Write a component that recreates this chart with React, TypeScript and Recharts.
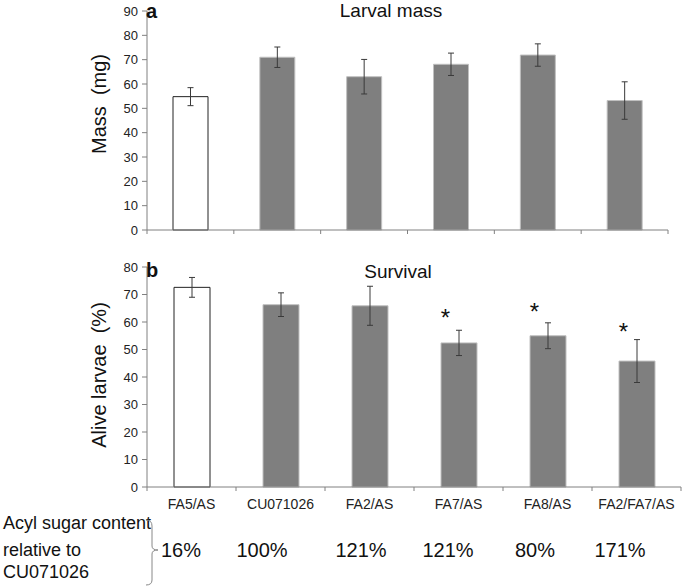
import React from 'react'
import { BarChart, ComposedChart, Bar, Scatter, XAxis, YAxis, ErrorBar, Cell } from 'recharts'

// Larva experiment: mass and survival per line, acyl sugar content relative to CU071026
const categories = ['FA5/AS', 'CU071026', 'FA2/AS', 'FA7/AS', 'FA8/AS', 'FA2/FA7/AS']
const massMean = [54.8, 71.0, 63.0, 68.1, 71.9, 53.2]
const massErr = [3.7, 4.2, 7.1, 4.6, 4.6, 7.7]
const survivalMean = [72.6, 66.3, 65.9, 52.4, 55.0, 45.8]
const survivalErr = [3.6, 4.3, 7.1, 4.6, 4.7, 7.8]
const survivalStar = [null, null, null, 63.2, 65.4, 58.1]
const acylContent = ['16%', '100%', '121%', '121%', '80%', '171%']
const acylX = [181, 262, 361, 448, 535, 620]
const massTicks = [0, 10, 20, 30, 40, 50, 60, 70, 80, 90]
const survivalTicks = [0, 10, 20, 30, 40, 50, 60, 70, 80]

const massData = categories.map((name, i) => ({ name, mean: massMean[i], err: massErr[i] }))
const survivalData = categories.map((name, i) => ({
  name, mean: survivalMean[i], err: survivalErr[i], star: survivalStar[i],
}))

const FONT = '"Liberation Sans", Arial, sans-serif'
const AXIS = '#808080'
const BAR_GRAY = '#7f7f7f'

const estiloTexto = (size: number): React.CSSProperties => ({
  position: 'absolute', fontFamily: FONT, fontSize: size, lineHeight: 1, color: '#111', whiteSpace: 'pre',
})

// tick marks sit between categories, like Excel
function DividerTick(props: any) {
  const { x, y, index, payload, band, count, showLabel } = props
  const half = band / 2
  return (
    <g>
      <line x1={x - half} x2={x - half} y1={y} y2={y + 4} stroke={AXIS} />
      {index === count - 1 && <line x1={x + half} x2={x + half} y1={y} y2={y + 4} stroke={AXIS} />}
      {showLabel && (
        <text x={x} y={y + 22} textAnchor="middle" fontSize={14} fontFamily={FONT} fill="#222">
          {payload.value}
        </text>
      )}
    </g>
  )
}

function Star(props: any) {
  const { cx, cy, payload } = props
  if (payload?.star == null || !Number.isFinite(cy)) return null
  return (
    <text x={cx - 13} y={cy + 13} textAnchor="middle" fontSize={24} fontFamily={FONT} fill="#111">*</text>
  )
}

const cores = categories.map((_, i) => (i === 0 ? '#ffffff' : BAR_GRAY))
const bordas = categories.map((_, i) => (i === 0 ? '#222222' : '#c0c0c0'))

export default function App() {
  const topBand = (668 - 147) / categories.length
  const botBand = (681 - 147) / categories.length
  return (
    <div style={{ position: 'absolute', left: 0, top: 0, width: 685, height: 587, background: '#fff' }}>
      {/* a: larval mass */}
      <div style={{ position: 'absolute', left: 0, top: 0 }}>
        <BarChart width={685} height={250} data={massData} margin={{ top: 11, right: 17, left: 102, bottom: 0 }}>
          <XAxis
            dataKey="name" height={20} tickSize={0} tickMargin={0} interval={0}
            axisLine={{ stroke: AXIS }}
            tick={<DividerTick band={topBand} count={categories.length} showLabel={false} />}
          />
          <YAxis
            width={45} domain={[0, 90]} ticks={massTicks} interval={0} tickSize={5} tickMargin={4}
            axisLine={{ stroke: AXIS }} tickLine={{ stroke: AXIS }}
            tick={{ fontSize: 13, fontFamily: FONT, fill: '#222' }}
          />
          <Bar dataKey="mean" barSize={35} isAnimationActive={false}>
            {massData.map((_, i) => <Cell key={i} fill={cores[i]} stroke={bordas[i]} strokeWidth={1} />)}
            <ErrorBar dataKey="err" width={3} stroke="#3a3a3a" strokeWidth={1} direction="y" />
          </Bar>
        </BarChart>
      </div>

      {/* b: survival */}
      <div style={{ position: 'absolute', left: 0, top: 250 }}>
        <ComposedChart width={685} height={265} data={survivalData} margin={{ top: 17, right: 4, left: 102, bottom: 0 }}>
          <XAxis
            dataKey="name" height={28} tickSize={0} tickMargin={0} interval={0}
            axisLine={{ stroke: AXIS }}
            tick={<DividerTick band={botBand} count={categories.length} showLabel />}
          />
          <YAxis
            width={45} domain={[0, 80]} ticks={survivalTicks} interval={0} tickSize={5} tickMargin={4}
            axisLine={{ stroke: AXIS }} tickLine={{ stroke: AXIS }}
            tick={{ fontSize: 13, fontFamily: FONT, fill: '#222' }}
          />
          <Bar dataKey="mean" barSize={36} isAnimationActive={false}>
            {survivalData.map((_, i) => <Cell key={i} fill={cores[i]} stroke={bordas[i]} strokeWidth={1} />)}
            <ErrorBar dataKey="err" width={3} stroke="#3a3a3a" strokeWidth={1} direction="y" />
          </Bar>
          <Scatter dataKey="star" shape={<Star />} isAnimationActive={false} />
        </ComposedChart>
      </div>

      {/* panel letters, titles, axis titles */}
      <div style={{ ...estiloTexto(20), left: 146, top: 1, fontWeight: 700 }}>a</div>
      <div style={{ ...estiloTexto(20), left: 146, top: 260, fontWeight: 700 }}>b</div>
      <div style={{ ...estiloTexto(19), left: 391, top: 1, transform: 'translateX(-50%)' }}>Larval mass</div>
      <div style={{ ...estiloTexto(19), left: 398, top: 262, transform: 'translateX(-50%)' }}>Survival</div>
      <div style={{ ...estiloTexto(20), left: 99, top: 104, transform: 'translate(-50%, -50%) rotate(-90deg)' }}>Mass  (mg)</div>
      <div style={{ ...estiloTexto(20), left: 99, top: 375, transform: 'translate(-50%, -50%) rotate(-90deg)' }}>Alive larvae  (%)</div>

      {/* acyl sugar content row */}
      <div style={{ ...estiloTexto(18), left: 3, top: 514 }}>Acyl sugar content</div>
      <div style={{ ...estiloTexto(18), left: 3, top: 541 }}>relative to</div>
      <div style={{ ...estiloTexto(18), left: 3, top: 563 }}>CU071026</div>
      <svg width={30} height={80} style={{ position: 'absolute', left: 141, top: 514 }}>
        <path d="M5 6 Q11 6 11 12 L11 32 Q11 36 17 36 Q11 36 11 40 L11 66 Q11 71 5 71"
          fill="none" stroke="#888" strokeWidth={1} />
      </svg>
      {acylContent.map((t, i) => (
        <div key={i} style={{ ...estiloTexto(20), left: acylX[i], top: 540, transform: 'translateX(-50%)' }}>{t}</div>
      ))}
    </div>
  )
}
